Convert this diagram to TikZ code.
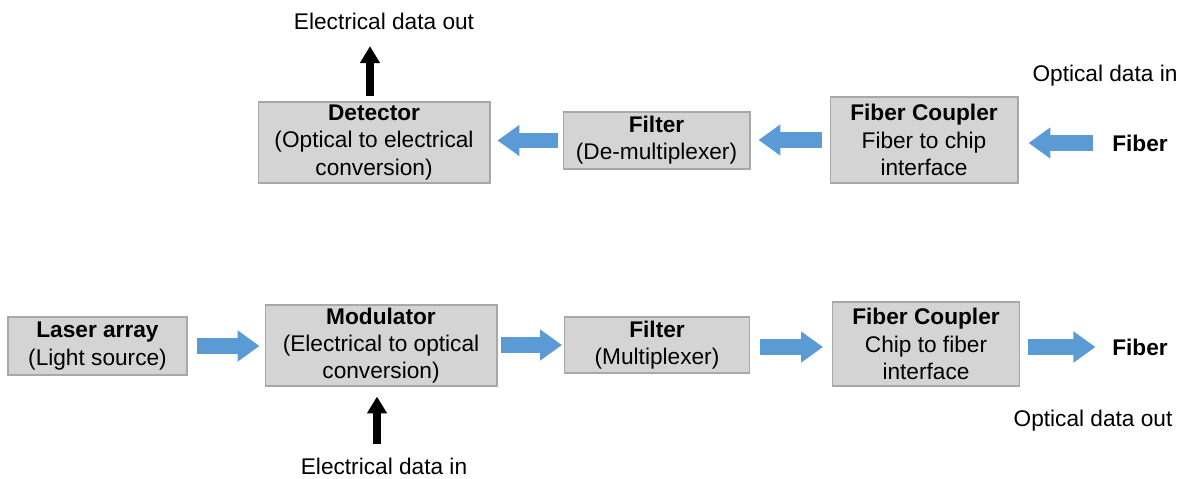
\documentclass[tikz,border=0pt]{standalone}
\usepackage{fontspec}
\setmainfont{Liberation Sans}
\usetikzlibrary{arrows.meta}
\definecolor{boxgray}{HTML}{D4D4D4}
\definecolor{boxline}{HTML}{A8A8A8}
\definecolor{arrowblue}{HTML}{5B9BD5}
\tikzset{
  box/.style={draw=boxline,fill=boxgray,line width=0.6pt,inner sep=0pt,align=center,
    font=\fontsize{12.9}{15.5}\selectfont},
  lbl/.style={inner sep=2pt,font=\fontsize{12.9}{15.5}\selectfont},
  bluearr/.style={draw=arrowblue,line width=9pt,
    arrows=-{Triangle[width=17pt,length=12.5pt]}},
  blackarr/.style={draw=black,line width=4pt,
    arrows=-{Triangle[width=10.8pt,length=9.6pt]}}
}
\begin{document}
\begin{tikzpicture}[x=0.02cm,y=-0.02cm]
\useasboundingbox (0,0) rectangle (1185,479);

% receiver:
\node[box,minimum width=4.64cm,minimum height=1.62cm] (det) at (374,142.5)
  {\textbf{Detector}\\(Optical to electrical\\conversion)};
\node[box,minimum width=3.74cm,minimum height=1.14cm] (filtrx) at (656.5,140.5)
  {\textbf{Filter}\\(De-multiplexer)};
\node[box,minimum width=3.76cm,minimum height=1.72cm] (cplrx) at (924,140)
  {\textbf{Fiber Coupler}\\Fiber to chip\\interface};
\node[lbl] (fibrx) at (1140,143) {\textbf{Fiber}};
\node[lbl] (oin) at (1105,76) {Optical data in};
\node[lbl] (eout) at (384,21) {Electrical data out};

\draw[bluearr,shorten <=0.3cm,shorten >=0.2cm] (fibrx.west) -- (fibrx.west -| cplrx.east);
\draw[bluearr,shorten <=0.16cm,shorten >=0.16cm] (cplrx.west) -- (cplrx.west -| filtrx.east);
\draw[bluearr,shorten <=0.1cm,shorten >=0.14cm] (filtrx.west) -- (filtrx.west -| det.east);
\draw[blackarr,shorten <=0.1cm,shorten >=0.26cm] ([xshift=-0.08cm]det.north) -- ([xshift=-0.08cm]det.north |- eout.south);

% transmitter:
\node[box,minimum width=3.58cm,minimum height=1.16cm] (laser) at (97.5,346)
  {\textbf{Laser array}\\(Light source)};
\node[box,minimum width=4.64cm,minimum height=1.62cm] (mod) at (381,345.5)
  {\textbf{Modulator}\\(Electrical to optical\\conversion)};
\node[box,minimum width=3.70cm,minimum height=1.12cm] (filttx) at (657,345)
  {\textbf{Filter}\\(Multiplexer)};
\node[box,minimum width=3.74cm,minimum height=1.68cm] (cpltx) at (926,344)
  {\textbf{Fiber Coupler}\\Chip to fiber\\interface};
\node[lbl] (fibtx) at (1140,347) {\textbf{Fiber}};
\node[lbl] (oout) at (1093,421) {Optical data out};
\node[lbl] (ein) at (384,466) {Electrical data in};

\draw[bluearr,shorten <=0.18cm,shorten >=0.1cm] (laser.east) -- (laser.east -| mod.west);
\draw[bluearr,shorten <=0.06cm,shorten >=0.04cm] (mod.east |- filttx.west) -- (filttx.west);
\draw[bluearr,shorten <=0.2cm,shorten >=0.18cm] ([yshift=-0.06cm]filttx.east |- cpltx.west) -- ([yshift=-0.06cm]cpltx.west);
\draw[bluearr,shorten <=0.16cm,shorten >=0.26cm] (cpltx.east |- fibtx.west) -- (fibtx.west);
\draw[blackarr,shorten <=0.2cm,shorten >=0.2cm] ([xshift=-0.08cm]ein.north -| mod.south) -- ([xshift=-0.08cm]mod.south);

\end{tikzpicture}
\end{document}
